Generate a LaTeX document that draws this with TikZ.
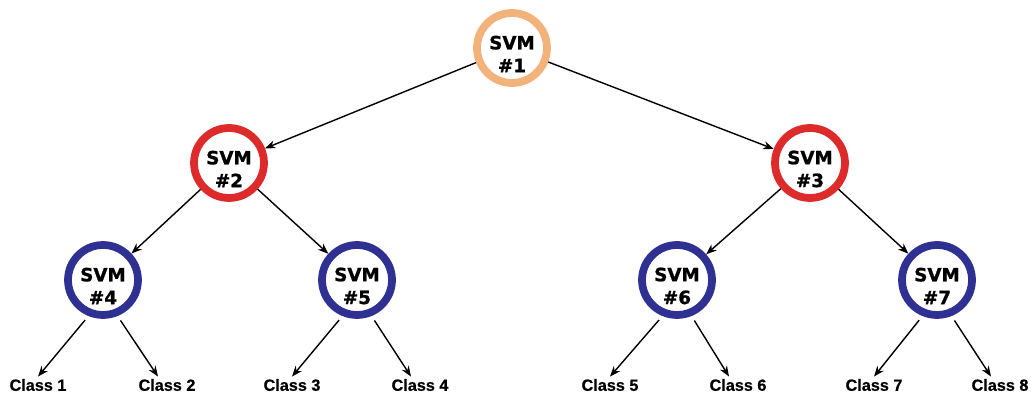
\documentclass[tikz,border=0pt]{standalone}
\usepackage{fontspec}
\newfontfamily\svmfont{DejaVu Sans}[BoldFeatures={FakeBold=1.2}]
\newfontfamily\classfont{Liberation Sans}[BoldFeatures={FakeBold=0.6}]
\usetikzlibrary{arrows.meta,calc}
\definecolor{ringorange}{HTML}{F3B27A}
\definecolor{ringred}{HTML}{DD2B2B}
\definecolor{ringblue}{HTML}{2E3192}
\tikzset{
 ring/.style={circle, minimum size=1.4cm, inner sep=0pt, line width=0.155cm, draw=#1, fill=white},
 svmtext/.style={font=\svmfont\bfseries\fontsize{10.4pt}{13pt}\selectfont, align=center, inner sep=0pt, yshift=-3.4pt},
 cls/.style={font=\classfont\bfseries\fontsize{9.24pt}{11pt}\selectfont, inner sep=1.2pt},
 arr/.style={line width=0.8pt, -{Stealth[length=6pt,width=4.6pt]}},
}
\begin{document}
\begin{tikzpicture}[x=0.02cm,y=-0.02cm]
\useasboundingbox (0,0) rectangle (1031,394);
% SVM nodes
\node[ring=ringorange, label={[svmtext]center:{SVM\\\#1}}] (n1) at (512,48) {};
\node[ring=ringred,    label={[svmtext]center:{SVM\\\#2}}] (n2) at (229,163) {};
\node[ring=ringred,    label={[svmtext]center:{SVM\\\#3}}] (n3) at (810,163) {};
\node[ring=ringblue,   label={[svmtext]center:{SVM\\\#4}}] (n4) at (103,280) {};
\node[ring=ringblue,   label={[svmtext]center:{SVM\\\#5}}] (n5) at (357,280) {};
\node[ring=ringblue,   label={[svmtext]center:{SVM\\\#6}}] (n6) at (677,280) {};
\node[ring=ringblue,   label={[svmtext]center:{SVM\\\#7}}] (n7) at (937,280) {};
% class labels
\node[cls] (c1) at (38,385)  {Class 1};
\node[cls] (c2) at (167,385) {Class 2};
\node[cls] (c3) at (292,385) {Class 3};
\node[cls] (c4) at (420,385) {Class 4};
\node[cls] (c5) at (610,385) {Class 5};
\node[cls] (c6) at (738,385) {Class 6};
\node[cls] (c7) at (874,385) {Class 7};
\node[cls] (c8) at (1000,385) {Class 8};
% tree connectors
\draw[arr] (n1) -- (n2);
\draw[arr] (n1) -- (n3);
\draw[arr] (n2) -- (n4);
\draw[arr] (n2) -- (n5);
\draw[arr] (n3) -- (n6);
\draw[arr] (n3) -- (n7);
% leaf connectors
\draw[arr, shorten <=3pt] (n4.248) -- (c1.north);
\draw[arr, shorten <=3pt] (n4.292) -- ($(c2.north)+(-9,0)$);
\draw[arr, shorten <=3pt] (n5.248) -- (c3.north);
\draw[arr, shorten <=3pt] (n5.292) -- ($(c4.north)+(-9,0)$);
\draw[arr, shorten <=3pt] (n6.248) -- (c5.north);
\draw[arr, shorten <=3pt] (n6.292) -- ($(c6.north)+(-9,0)$);
\draw[arr, shorten <=3pt] (n7.248) -- (c7.north);
\draw[arr, shorten <=3pt] (n7.292) -- ($(c8.north)+(-9,0)$);
\end{tikzpicture}
\end{document}
